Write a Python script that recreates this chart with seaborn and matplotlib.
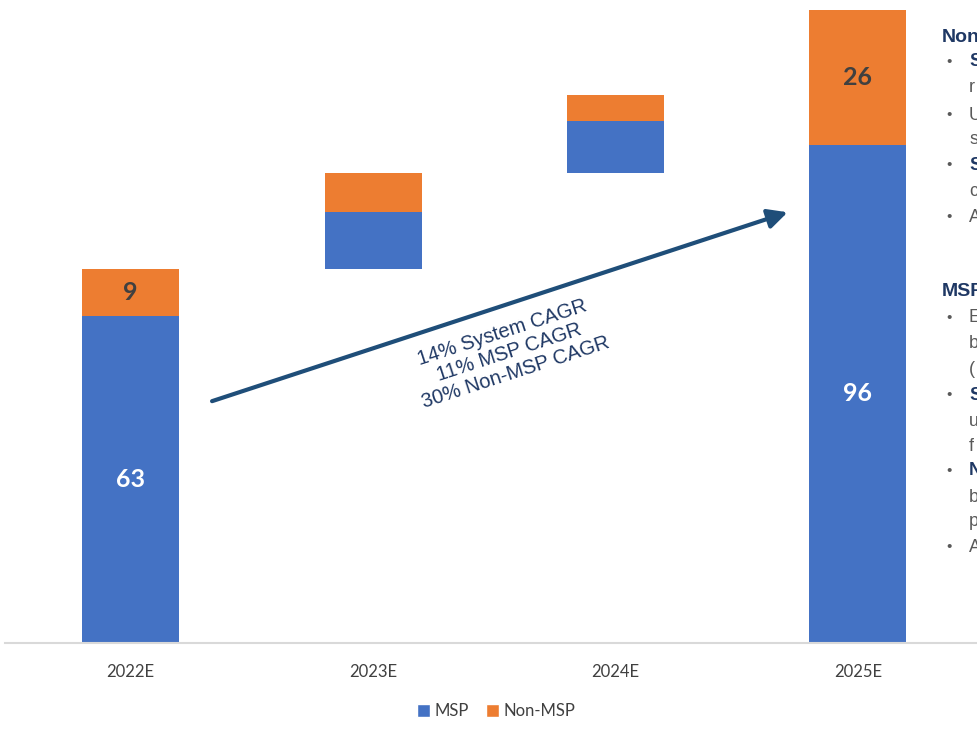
import matplotlib
matplotlib.use("Agg")
import matplotlib.pyplot as plt
import seaborn as sns
import pandas as pd
from matplotlib.patches import Patch

# ---- data -------------------------------------------------------------
years = ["2022E", "2023E", "2024E", "2025E"]
# 2022E / 2025E are full values, 2023E / 2024E are the year-on-year step-ups
msp = [63, 11, 10, 96]
non_msp = [9, 7.5, 5, 26]
# floating steps start where the previous year ended
bar_start = [0, 72, 90.5, 0]
show_values = [True, False, False, True]

cagr_lines = ["14% System CAGR", "11% MSP CAGR", "30% Non-MSP CAGR"]

# ---- styling ----------------------------------------------------------
MSP_BLUE = "#4472C4"
NON_MSP_ORANGE = "#ED7D31"
NAVY = "#1F3864"
ARROW_BLUE = "#1F4E79"
LABEL_GRAY = "#404040"
BODY_GRAY = "#595959"

sns.set_theme(style="white")
plt.rcParams["font.family"] = ["Lato", "DejaVu Sans"]

W, H = 977, 731
fig = plt.figure(figsize=(W / 100, H / 100), dpi=100)
ax = fig.add_axes([5 / W, 88 / H, 972 / W, 643 / H])

df = pd.DataFrame({"year": years, "msp": msp, "non_msp": non_msp, "start": bar_start})
df["msp_top"] = df["start"] + df["msp"]

sns.barplot(data=df, x="year", y="msp", bottom=df["start"].tolist(), color=MSP_BLUE,
            saturation=1, width=0.4, linewidth=0, errorbar=None, ax=ax)
sns.barplot(data=df, x="year", y="non_msp", bottom=df["msp_top"].tolist(), color=NON_MSP_ORANGE,
            saturation=1, width=0.4, linewidth=0, errorbar=None, ax=ax)

# value labels inside the full-height bars
for i, row in df.iterrows():
    if not show_values[i]:
        continue
    ax.text(i, row["start"] + row["msp"] / 2, f"{row['msp']:g}", ha="center", va="center",
            color="white", fontsize=18, fontweight="bold")
    ax.text(i, row["msp_top"] + row["non_msp"] / 2, f"{row['non_msp']:g}", ha="center", va="center",
            color=LABEL_GRAY, fontsize=18, fontweight="bold")

ax.set_xlim(-0.518, 3.491)
ax.set_ylim(0, 123.9)
ax.set_xlabel("")
ax.set_ylabel("")
ax.set_yticks([])
ax.tick_params(axis="x", length=0, pad=15, labelsize=12, labelcolor=LABEL_GRAY)
sns.despine(ax=ax, left=True, top=True, right=True)
ax.spines["bottom"].set_color("#D9D9D9")
ax.spines["bottom"].set_linewidth(1.5)

# growth arrow with CAGR call-out
ax.annotate("", xy=(2.71, 83.0), xytext=(0.336, 46.6),
            arrowprops=dict(arrowstyle="-|>,head_length=0.9,head_width=0.45", color=ARROW_BLUE,
                            lw=3, shrinkA=0, shrinkB=0, mutation_scale=13))
ax.text(1.56, 56.0, "\n".join(cagr_lines), rotation=18, rotation_mode="anchor",
        ha="center", va="center", multialignment="center", color=NAVY,
        fontsize=14.5, family=["Liberation Sans", "DejaVu Sans"], linespacing=1.12)

# legend
handles = [Patch(facecolor=MSP_BLUE, label="MSP"), Patch(facecolor=NON_MSP_ORANGE, label="Non-MSP")]
fig.legend(handles=handles, loc="center", bbox_to_anchor=(496 / W, 1 - 711 / H), ncol=2,
           frameon=False, fontsize=12, handlelength=0.8, handleheight=0.8, handletextpad=0.25,
           columnspacing=1.0, labelcolor=LABEL_GRAY)

# side commentary running off the right edge
side_font = ["Liberation Sans", "DejaVu Sans"]
side_items = [
    # (y, text, bold, bullet, heading)
    (38, "Non-MSP", True, False, True),
    (62, "S", True, True, False),
    (88, "r", False, False, False),
    (115, "U", False, True, False),
    (140, "s", False, False, False),
    (165, "S", True, True, False),
    (192, "c", False, False, False),
    (217, "A", False, True, False),
    (291, "MSP", True, False, True),
    (318, "E", False, True, False),
    (344, "b", False, False, False),
    (369, "(", False, False, False),
    (395, "S", True, True, False),
    (421, "u", False, False, False),
    (447, "f", False, False, False),
    (471, "N", True, True, False),
    (497, "b", False, False, False),
    (522, "p", False, False, False),
    (547, "A", False, True, False),
]
for y, txt, bold, bullet, heading in side_items:
    x = 942 if heading else 969
    fig.text(x / W, 1 - y / H, txt, ha="left", va="center",
             fontsize=14 if heading else 13,
             fontweight="bold" if bold else "normal",
             color=NAVY if bold else BODY_GRAY, family=side_font)
    if bullet:
        fig.text(946 / W, 1 - y / H, "•", ha="left", va="center", fontsize=11,
                 color=BODY_GRAY, family=side_font)

fig.savefig("out.png", dpi=100)
